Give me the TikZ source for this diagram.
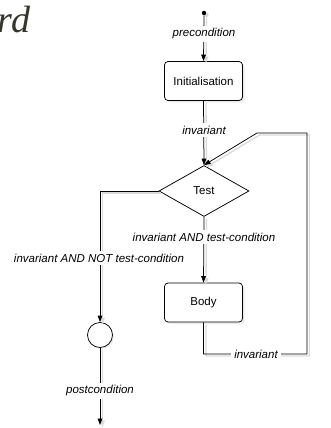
\documentclass[tikz,border=0pt]{standalone}
\usepackage{fontspec}
\setmainfont{Liberation Sans}
\newfontfamily\headserif{Liberation Serif}
\usetikzlibrary{arrows.meta,shapes.geometric,shadows}
\definecolor{titlecol}{HTML}{35352A}
\definecolor{shadowcol}{HTML}{DADADA}

\begin{document}
\begin{tikzpicture}[x=1pt,y=-1pt,
  every node/.style={font=\fontsize{11.5}{13}\selectfont},
  flowline/.style={draw=black, line width=0.75pt,
    preaction={draw=shadowcol, line width=1.3pt, transform canvas={shift={(2.5pt,-2pt)}}}},
  arr/.style={flowline, -{Triangle[length=6.5pt,width=4.6pt]}},
  condlabel/.style={font=\itshape\fontsize{11.5}{13}\selectfont, fill=white,
    inner xsep=3pt, inner ysep=2.5pt},
  activity/.style={draw, rounded corners=3.5pt, minimum width=78pt, minimum height=39pt,
    fill=white, line width=0.75pt,
    drop shadow={shadow xshift=2pt, shadow yshift=-2pt, fill=shadowcol}},
  decision/.style={draw, diamond, minimum width=90pt, minimum height=51pt, inner sep=0pt,
    fill=white, line width=0.75pt},
  merge/.style={draw, circle, minimum size=25pt, inner sep=0pt, fill=white, line width=0.75pt,
    drop shadow={shadow xshift=1.5pt, shadow yshift=-1.5pt, fill=shadowcol}},
]
\useasboundingbox (0,0) rectangle (331,428);

% heading fragment
\node[font=\headserif\itshape\fontsize{38}{40}\selectfont, text=titlecol,
      anchor=base east, inner sep=0pt] (heading) at (30.5,33) {rd};

% initial point
\fill[shadowcol] (206.5,15) circle (2.2pt);
\node[circle, fill=black, minimum size=4.4pt, inner sep=0pt] (start) at (204,13) {};

% activities
\node[activity] (init) at (203.5,81) {Initialisation};
\node[decision] (test) at (204,191) {Test};
\node[activity] (body) at (203.5,302.5) {Body};
\node[merge] (done) at (100,335) {};

% loop corners and final end
\coordinate (loopR) at (307,354);
\coordinate (loopT) at (307,133);
\coordinate (loopL) at (257,133);
\coordinate (finish) at (100,425);

% connectors
\path[arr] (start) -- (init.north);
\path[arr] (init.south) -- (test.north);
\path[arr] (test.south) -- (body.north);
\path[arr] (body.south) |- (loopR) -- (loopT) -- (loopL) -- (test.north);
\path[arr] (test.west) -| (done.north);
\path[arr] (done.south) -- (finish);

% conditions
\node[condlabel] (pre) at (204,34) {precondition};
\node[condlabel] (inv1) at (204,130) {invariant};
\node[condlabel] (cont) at (204,237) {invariant AND test-condition};
\node[condlabel] (inv2) at (256,354) {invariant};
\node[condlabel] (stop) at (99,258) {invariant AND NOT test-condition};
\node[condlabel] (post) at (100,391) {postcondition};
\end{tikzpicture}
\end{document}
